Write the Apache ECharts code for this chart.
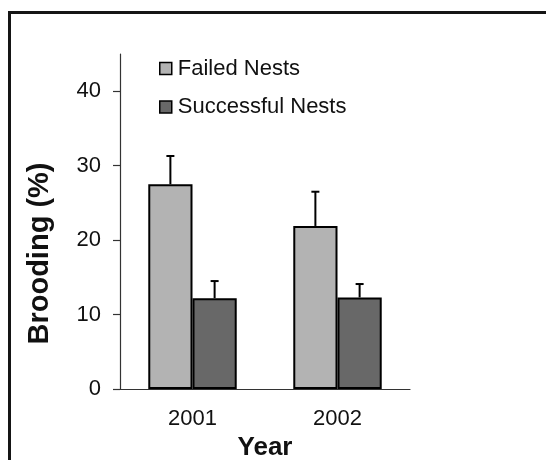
<!DOCTYPE html>
<html>
<head>
<meta charset="utf-8">
<style>
  html, body { margin: 0; padding: 0; background: #fff; }
  #chart { width: 546px; height: 460px; }
</style>
<script src="https://cdn.jsdelivr.net/npm/echarts@6/dist/echarts.min.js"></script>
</head>
<body>
<div id="chart"></div>
<script>
// Brooding (%) by year for failed and successful nests, mean + upper SE
const years = ['2001', '2002'];
const seriesNames = ['Failed Nests', 'Successful Nests'];
const failedMean = [27.5, 21.9];
const failedUpper = [31.3, 26.5];
const successMean = [12.2, 12.3];
const successUpper = [14.5, 14.1];
const yTicks = [0, 10, 20, 30, 40];

const FONT = '"Liberation Sans", Arial, sans-serif';
const TEXT = '#111';
const CATEGORY_GAP = 0.39;

// Upper error whiskers: side = -1 for the left bar of each pair, +1 for the right
function whiskerSeries(means, uppers, side) {
  return {
    type: 'custom',
    z: 5,
    data: means.map((m, i) => [i, m, uppers[i]]),
    renderItem: function (params, api) {
      const idx = api.value(0);
      const base = api.coord([idx, api.value(1)]);
      const top = api.coord([idx, api.value(2)]);
      const band = api.size([1, 0])[0];
      const barW = band * (1 - CATEGORY_GAP) / 2;
      const x = base[0] + side * barW / 2;
      const cap = 4;
      const style = { stroke: '#000', lineWidth: 2 };
      return {
        type: 'group',
        children: [
          { type: 'line', shape: { x1: x, y1: base[1], x2: x, y2: top[1] }, style: style },
          { type: 'line', shape: { x1: x - cap, y1: top[1], x2: x + cap, y2: top[1] }, style: style }
        ]
      };
    }
  };
}

const chart = echarts.init(document.getElementById('chart'), null, { renderer: 'canvas' });

chart.setOption({
  backgroundColor: '#fff',
  animation: false,
  textStyle: { fontFamily: FONT, color: TEXT },
  graphic: [{
    type: 'rect',
    z: -1,
    shape: { x: 9.5, y: 12.5, width: 600, height: 500 },
    style: { fill: null, stroke: '#151515', lineWidth: 3 }
  }],
  grid: { left: 120, right: 136, top: 54, bottom: 71, containLabel: false, outerBoundsMode: 'none' },
  legend: {
    data: seriesNames,
    orient: 'vertical',
    left: 159,
    top: 57.5,
    padding: 0,
    itemWidth: 12,
    itemHeight: 12,
    itemGap: 16.5,
    icon: 'rect',
    itemStyle: { borderColor: '#000', borderWidth: 1.5 },
    textStyle: { fontFamily: FONT, fontSize: 22, color: TEXT, padding: [0, 0, 0, 1] }
  },
  xAxis: {
    type: 'category',
    data: years,
    name: 'Year',
    nameLocation: 'middle',
    nameGap: 34,
    nameTextStyle: { fontFamily: FONT, fontSize: 26, fontWeight: 'bold', color: TEXT },
    axisLine: { lineStyle: { color: '#333', width: 1.2 } },
    axisTick: { show: false },
    axisLabel: { fontFamily: FONT, fontSize: 22, color: TEXT, margin: 19 }
  },
  yAxis: {
    type: 'value',
    min: 0,
    max: 45,
    interval: 10,
    name: 'Brooding (%)',
    nameLocation: 'middle',
    nameGap: 66,
    nameTextStyle: {
      fontFamily: FONT, fontSize: 29, fontWeight: 'bold', color: TEXT,
      padding: [0, 64, 0, 0]
    },
    axisLine: { show: true, lineStyle: { color: '#333', width: 1.2 } },
    axisTick: { show: true, length: 7, customValues: yTicks, lineStyle: { color: '#333', width: 1.2 } },
    axisLabel: { fontFamily: FONT, fontSize: 22, color: TEXT, margin: 19, customValues: yTicks },
    splitLine: { show: false }
  },
  series: [
    {
      name: seriesNames[0],
      type: 'bar',
      data: failedMean,
      barGap: '0%',
      barCategoryGap: (CATEGORY_GAP * 100) + '%',
      itemStyle: { color: '#b3b3b3', borderColor: '#000', borderWidth: 2 }
    },
    {
      name: seriesNames[1],
      type: 'bar',
      data: successMean,
      barGap: '0%',
      barCategoryGap: (CATEGORY_GAP * 100) + '%',
      itemStyle: { color: '#686868', borderColor: '#000', borderWidth: 2 }
    },
    whiskerSeries(failedMean, failedUpper, -1),
    whiskerSeries(successMean, successUpper, 1)
  ]
});
</script>
</body>
</html>
